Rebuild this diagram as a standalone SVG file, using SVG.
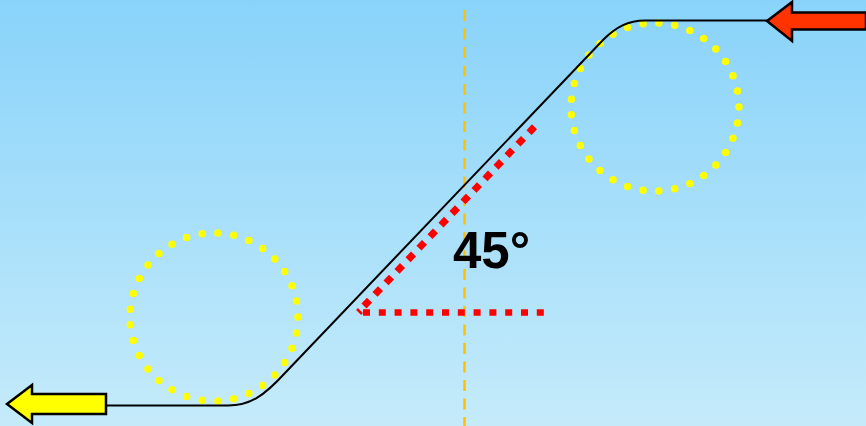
<svg xmlns="http://www.w3.org/2000/svg" width="866" height="426" viewBox="0 0 866 426">
<defs>
<linearGradient id="bg" x1="0" y1="0" x2="0" y2="1">
<stop offset="0" stop-color="#89D3FA"/>
<stop offset="1" stop-color="#C5EBFA"/>
</linearGradient>
<style>
.dots{fill:none;stroke:#FFFF00;stroke-width:7.5;stroke-linecap:round;stroke-dasharray:0 1}
.reddot{fill:none;stroke:#FF0000;stroke-width:6.5;stroke-dasharray:7 8.8}
.arrow{stroke:#000;stroke-width:2.5;stroke-linejoin:miter}
</style>
</defs>
<rect width="866" height="426" fill="url(#bg)"/>
<g id="guide">
<line x1="464.5" y1="10" x2="464.5" y2="426" stroke="#FFC000" stroke-width="2.5" stroke-dasharray="11 7.5"/>
</g>
<g id="circle-bottom">
<circle class="dots" cx="214" cy="317" r="84" pathLength="33"/>
</g>
<g id="circle-top">
<circle class="dots" cx="655" cy="107" r="84" pathLength="33"/>
</g>
<g id="angle">
<line class="reddot" x1="363" y1="312.5" x2="547" y2="312.5"/>
<line x1="364" y1="306" x2="540" y2="121" pathLength="16" stroke="#FF0000" stroke-width="7" stroke-dasharray="0.5 0.5"/>
<line x1="357" y1="309" x2="362" y2="314" stroke="#FF0000" stroke-width="2.5"/>
<text x="453" y="268" font-family="Liberation Sans, Arial, sans-serif" font-weight="bold" font-size="51" fill="#000">45°</text>
</g>
<g id="connectors">
<path d="M105,405.5 H228 C250,405.5 264,396 285,373 L603,40 C616,27 628,20.5 645,20.5 H768" fill="none" stroke="#000" stroke-width="2"/>
</g>
<g id="arrow-in">
<polygon class="arrow" fill="#FF3300" points="767,21 792,2 792,12.5 866,12.5 866,29.5 792,29.5 792,41"/>
</g>
<g id="arrow-out">
<polygon class="arrow" fill="#FFFF00" points="7,404 32,385 32,394 106,394 106,414 32,414 32,423"/>
</g>
</svg>
